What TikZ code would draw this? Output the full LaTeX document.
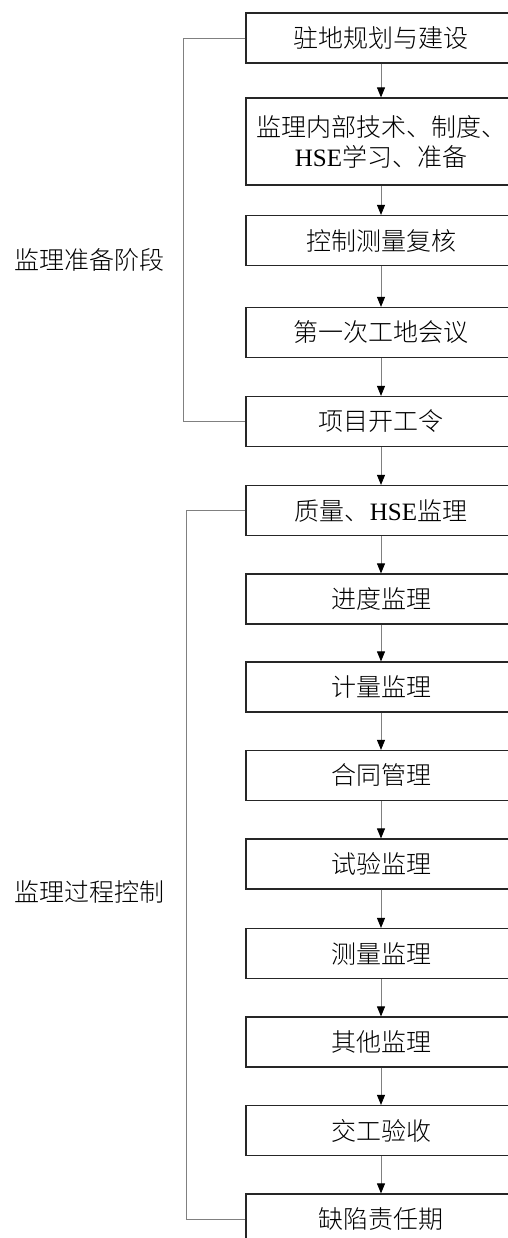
\documentclass[tikz,border=0pt]{standalone}
\usepackage{fontspec}
\setmainfont{Liberation Serif}
\newfontfamily\cjk{Noto Sans CJK SC Light}
\usetikzlibrary{arrows.meta}
\begin{document}
\begin{tikzpicture}[x=1pt,y=-1pt,
  box/.style={draw=black!85, line width=1.2pt, minimum width=270pt, minimum height=50pt,
    inner sep=0pt, align=center, font=\fontsize{25}{30}\selectfont\cjk},
  flow/.style={draw=gray, line width=0.9pt, -{Triangle[length=10pt,width=8pt,color=black]}},
  bracketline/.style={draw=gray, line width=0.9pt},
  lab/.style={font=\fontsize{25}{30}\selectfont\cjk, inner sep=0pt}]
\useasboundingbox (0,0) rectangle (508,1238);
\fill[white] (0,0) rectangle (508,1238);
\clip (0,0) rectangle (508,1238);
\node[box] (b1) at (381,38) {驻地规划与建设};
\node[box, minimum height=87pt] (b2) at (381,141.5) {监理内部技术、制度、\\{\rmfamily HSE}学习、准备};
\node[box] (b3) at (381,240.5) {控制测量复核};
\node[box] (b4) at (381,332.5) {第一次工地会议};
\node[box] (b5) at (381,421.5) {项目开工令};
\node[box] (b6) at (381,510.5) {质量、{\rmfamily HSE}监理};
\node[box] (b7) at (381,599) {进度监理};
\node[box] (b8) at (381,687) {计量监理};
\node[box] (b9) at (381,775.5) {合同管理};
\node[box] (b10) at (381,864) {试验监理};
\node[box] (b11) at (381,953.5) {测量监理};
\node[box] (b12) at (381,1042) {其他监理};
\node[box] (b13) at (381,1130.5) {交工验收};
\node[box] (b14) at (381,1219) {缺陷责任期};
\foreach \a/\b in {b1/b2,b2/b3,b3/b4,b4/b5,b5/b6,b6/b7,b7/b8,b8/b9,b9/b10,b10/b11,b11/b12,b12/b13,b13/b14}
  \draw[flow] (\a) -- (\b);
\node[lab] (l1) at (89,260) {监理准备阶段};
\node[lab] (l2) at (89,892) {监理过程控制};
\coordinate (k1) at (183,38);
\coordinate (k2) at (186,510.5);
\draw[bracketline] (b1.west) -- (k1) |- (b5.west);
\draw[bracketline] (b6.west) -- (k2) |- (b14.west);
\end{tikzpicture}
\end{document}
